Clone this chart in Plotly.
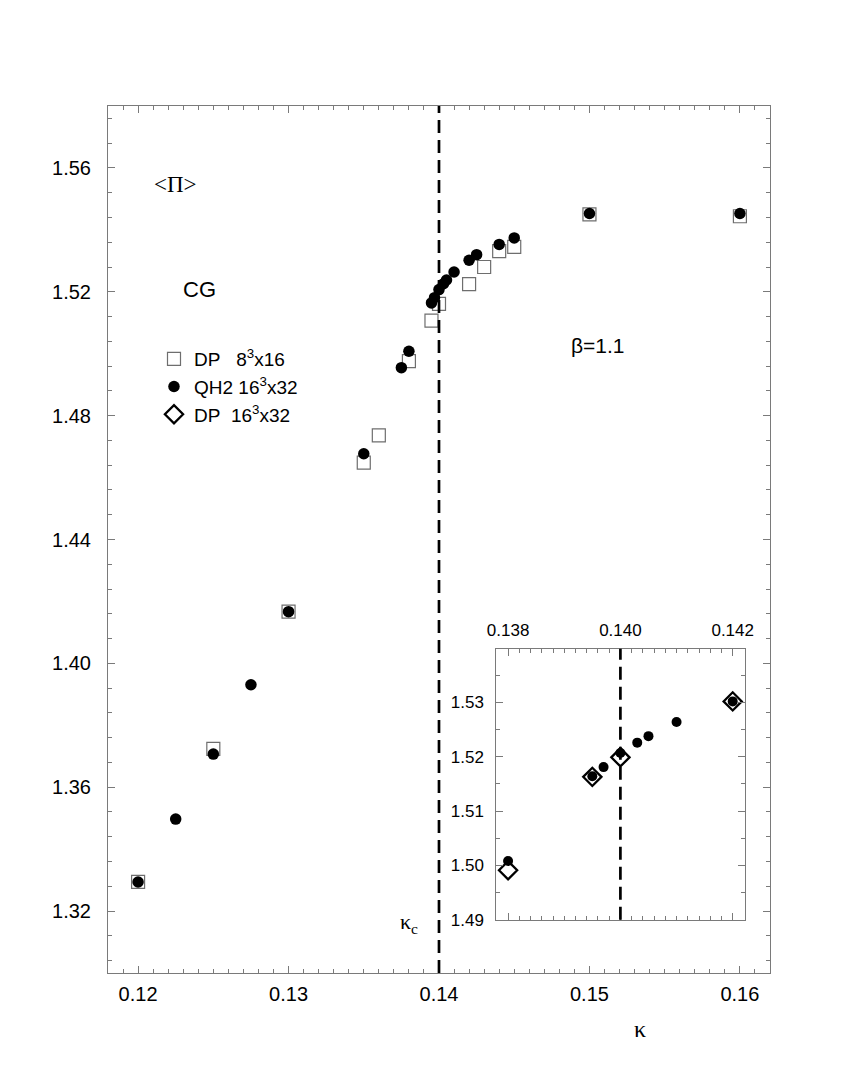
import plotly.graph_objects as go

# ---------------- data ----------------
kappa_c = 0.140

# DP 8^3x16 (open squares, main panel)
dp8_kappa = [0.120, 0.125, 0.130, 0.135, 0.136, 0.138, 0.1395, 0.140, 0.142, 0.143, 0.144, 0.145, 0.150, 0.160]
dp8_plaq = [1.3294, 1.3724, 1.4167, 1.4648, 1.4736, 1.4976, 1.5107, 1.5161, 1.5225, 1.5280, 1.5331, 1.5345, 1.5450, 1.5444]

# QH2 16^3x32 (filled circles)
qh2_kappa = [0.120, 0.1225, 0.125, 0.1275, 0.130, 0.135, 0.1375, 0.138, 0.1395, 0.1397, 0.140, 0.1403,
             0.1405, 0.141, 0.142, 0.1425, 0.144, 0.145, 0.150, 0.160]
qh2_plaq = [1.3294, 1.3497, 1.3707, 1.3931, 1.4167, 1.4677, 1.4955, 1.5008, 1.5164, 1.5181, 1.5207, 1.5226,
            1.5238, 1.5264, 1.5302, 1.5320, 1.5353, 1.5374, 1.5453, 1.5453]

# DP 16^3x32 (open diamonds, inset)
dp16_kappa = [0.138, 0.1395, 0.140, 0.142]
dp16_plaq = [1.4991, 1.5163, 1.5199, 1.5302]

# axis ticks
main_xticks = [0.12, 0.13, 0.14, 0.15, 0.16]
main_yticks = [1.32, 1.36, 1.40, 1.44, 1.48, 1.52, 1.56]
inset_xticks = [0.138, 0.140, 0.142]
inset_yticks = [1.49, 1.50, 1.51, 1.52, 1.53]

# ---------------- layout geometry ----------------
W, H = 844, 1092
def px(x):
    return x / W
def py(y):
    return 1 - y / H

SANS = "Liberation Sans, Arial, sans-serif"
SERIF = "Liberation Serif, Times New Roman, serif"
AXC = "#7a7a7a"

fig = go.Figure()

fig.add_trace(go.Scatter(
    x=dp8_kappa, y=dp8_plaq, mode="markers", xaxis="x", yaxis="y",
    name="DP\u00a0\u00a0\u00a08<sup>3</sup>x16", legendrank=1,
    marker=dict(symbol="square-open", size=13, color="#6e6e6e", line=dict(width=1.2, color="#6e6e6e")),
))
fig.add_trace(go.Scatter(
    x=qh2_kappa, y=qh2_plaq, mode="markers", xaxis="x", yaxis="y",
    name="QH2 16<sup>3</sup>x32", legendrank=2,
    marker=dict(symbol="circle", size=11.5, color="black"),
))
# inset traces
fig.add_trace(go.Scatter(
    x=dp16_kappa, y=dp16_plaq, mode="markers", xaxis="x2", yaxis="y2",
    name="DP\u00a0\u00a016<sup>3</sup>x32", legendrank=3, cliponaxis=False,
    marker=dict(symbol="diamond-open", size=14, color="black", line=dict(width=2.3, color="black")),
))
fig.add_trace(go.Scatter(
    x=qh2_kappa, y=qh2_plaq, mode="markers", xaxis="x2", yaxis="y2",
    showlegend=False, cliponaxis=True,
    marker=dict(symbol="circle", size=10, color="black"),
))

common_axis = dict(
    showgrid=False, zeroline=False, showline=True, linecolor=AXC, linewidth=1,
    ticks="inside", tickcolor=AXC, tickwidth=1, mirror="ticks", automargin=False,
    tickfont=dict(family=SANS, size=20, color="black"),
)
inset_font = dict(family=SANS, size=17, color="black")

fig.update_layout(
    width=W, height=H, autosize=False,
    margin=dict(l=0, r=0, t=0, b=0),
    paper_bgcolor="white", plot_bgcolor="white",
    xaxis=dict(
        **common_axis, domain=[px(100), px(762)], range=[0.118, 0.162], anchor="y",
        tickvals=main_xticks, ticktext=[f"{v:.2f}" for v in main_xticks], ticklen=7,
        minor=dict(dtick=0.001, tick0=0.12, ticks="inside", ticklen=4, tickcolor=AXC),
        ticklabelstandoff=3,
    ),
    yaxis=dict(
        **common_axis, domain=[py(965), py(98)], range=[1.30, 1.58], anchor="x",
        tickvals=main_yticks, ticktext=[f"{v:.2f}" for v in main_yticks], ticklen=7,
        minor=dict(dtick=0.008, tick0=1.32, ticks="inside", ticklen=4, tickcolor=AXC),
        ticklabelstandoff=12,
    ),
    xaxis2=dict(
        **{**common_axis, "tickfont": inset_font},
        domain=[px(488.3), px(736.5)], range=[0.13779, 0.14221], anchor="y2", side="top",
        tickvals=inset_xticks, ticktext=[f"{v:.3f}" for v in inset_xticks], ticklen=7,
        minor=dict(dtick=0.0002, tick0=0.138, ticks="inside", ticklen=4, tickcolor=AXC),
        ticklabelstandoff=5,
    ),
    yaxis2=dict(
        **{**common_axis, "tickfont": inset_font},
        domain=[py(911.7), py(640.7)], range=[1.49, 1.5399], anchor="x2",
        tickvals=inset_yticks, ticktext=[f"{v:.2f}" for v in inset_yticks], ticklen=7,
        minor=dict(dtick=0.005, tick0=1.49, ticks="inside", ticklen=4, tickcolor=AXC),
        ticklabelstandoff=8,
    ),
    legend=dict(
        x=px(146), y=py(332), xanchor="left", yanchor="top",
        bgcolor="rgba(0,0,0,0)", borderwidth=0,
        font=dict(family=SANS, size=19, color="black"),
        tracegroupgap=0, itemwidth=30,
    ),
    showlegend=True,
)

# critical kappa dashed lines
fig.add_shape(type="line", xref="x", yref="y domain", x0=kappa_c, x1=kappa_c, y0=0, y1=1,
              line=dict(color="black", width=2.7, dash="13px,7px"))
fig.add_shape(type="line", xref="x2", yref="y2 domain", x0=kappa_c, x1=kappa_c, y0=0, y1=1,
              line=dict(color="black", width=2.7, dash="13px,7px"))

def ann(text, x, y, family, size):
    fig.add_annotation(text=text, x=px(x), y=py(y), xref="paper", yref="paper",
                       showarrow=False, xanchor="center", yanchor="middle",
                       font=dict(family=family, size=size, color="black"))

ann("&lt;Π&gt;", 167, 177, SERIF, 23)
ann("CG", 191, 282, SANS, 22)
ann("β=1.1", 590, 337, SANS, 21)
ann("κ<sub>c</sub>", 401, 915, SERIF, 22)
ann("κ", 632, 1021, SERIF, 24)

fig.write_html("out.html")
